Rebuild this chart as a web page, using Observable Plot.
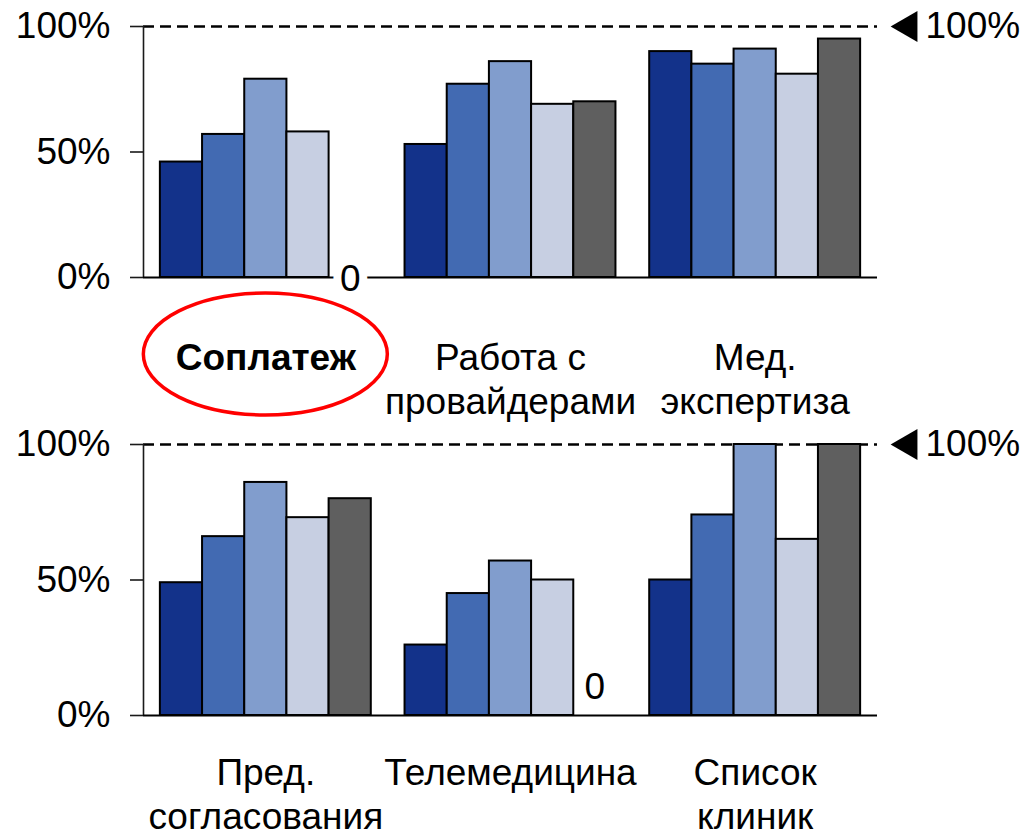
<!DOCTYPE html>
<html>
<head>
<meta charset="utf-8">
<script src="https://cdn.jsdelivr.net/npm/d3@7"></script>
<script src="https://cdn.jsdelivr.net/npm/@observablehq/plot@0.6"></script>
<style>
  body { margin: 0; background: #fff; }
  #chart svg { display: block; }
</style>
</head>
<body>
<div id="chart"></div>
<script>
// Share of respondents per segment (five series per category), in percent
const seriesColors = ["#13328A", "#426AB2", "#819DCD", "#C7CFE2", "#5F5F5F"];

const topCategories = ["Соплатеж", "Работа с\nпровайдерами", "Мед.\nэкспертиза"];
const topValues = [
  [46, 57, 79, 58, 0],
  [53, 77, 86, 69, 70],
  [90, 85, 91, 81, 95]
];

const bottomCategories = ["Пред.\nсогласования", "Телемедицина", "Список\nклиник"];
const bottomValues = [
  [49, 66, 86, 73, 80],
  [26, 45, 57, 50, 0],
  [50, 74, 100, 65, 100]
];

const yTicks = [0, 50, 100];
const referenceLevel = 100;
const highlighted = "Соплатеж";

const FONT = "'Liberation Sans', Arial, Helvetica, sans-serif";
const FONT_SIZE = 37;
const GROUP_STEP = 5.8;                     // bar widths per category, including the gap
const X_DOMAIN = [-0.4, 2 * GROUP_STEP + 5 + 0.4];

function panel(categories, values, opts) {
  const rows = values.flatMap((vals, g) =>
    vals.map((v, s) => ({
      group: g,
      series: s,
      value: v,
      x1: g * GROUP_STEP + s,
      x2: g * GROUP_STEP + s + 1
    }))
  );
  const groups = categories.map((label, g) => ({label, center: g * GROUP_STEP + 2.5}));
  const zeros = rows.filter(d => d.value === 0);

  const labelStyle = {
    x: "center",
    y: 0,
    text: "label",
    dy: opts.labelOffset,
    lineAnchor: "top",
    lineHeight: 1.17,
    fontSize: FONT_SIZE,
    fill: "black"
  };

  return Plot.plot({
    width: 1029,
    height: opts.height,
    marginTop: opts.marginTop,
    marginBottom: opts.marginBottom,
    marginLeft: 143,
    marginRight: 152,
    style: {fontFamily: FONT, fontSize: FONT_SIZE + "px", color: "black", background: "white", overflow: "visible"},
    x: {domain: X_DOMAIN, axis: null},
    y: {domain: [0, 100], label: null},
    color: {type: "ordinal", domain: d3.range(seriesColors.length), range: seriesColors},
    marks: [
      // dashed 100% reference line
      Plot.ruleY([referenceLevel], {stroke: "black", strokeWidth: 2.4, strokeDasharray: "11,6"}),
      // bars
      Plot.rect(rows, {
        x1: "x1", x2: "x2", y1: 0, y2: "value",
        fill: "series", stroke: "black", strokeWidth: 2
      }),
      // left axis line and baseline
      Plot.ruleX([X_DOMAIN[0]], {y1: 0, y2: 100, stroke: "#1a1a1a", strokeWidth: 1.6}),
      Plot.ruleY([0], {stroke: "black", strokeWidth: 2}),
      Plot.axisY(yTicks, {
        tickSize: 13, tickPadding: 20, tickFormat: d => d + "%",
        fontSize: FONT_SIZE, strokeWidth: 1.6, stroke: "#1a1a1a", fill: "black", label: null
      }),
      // category labels
      Plot.text(groups.filter(d => d.label !== highlighted), labelStyle),
      Plot.text(groups.filter(d => d.label === highlighted), {...labelStyle, fontWeight: "bold"}),
      // zero-value labels
      Plot.text(zeros, {
        x: d => (d.x1 + d.x2) / 2,
        y: "value",
        text: d => String(d.value),
        dy: opts.zeroDy,
        lineAnchor: "middle",
        fontSize: FONT_SIZE,
        fill: "black",
        stroke: opts.zeroHalo ? "white" : null,
        strokeWidth: opts.zeroHalo ? 16 : 0,
        paintOrder: "stroke"
      }),
      // 100% marker at the right end of the reference line
      Plot.dot([referenceLevel], {
        y: d => d, frameAnchor: "right", dx: 31,
        symbol: "triangle", rotate: -90, r: 11.5, fill: "black", stroke: null
      }),
      Plot.text([referenceLevel], {
        y: d => d, frameAnchor: "right", dx: 48,
        text: d => d + "%", textAnchor: "start", lineAnchor: "middle",
        fontSize: FONT_SIZE, fill: "black"
      }),
      // highlight ring around the selected category label
      (index, scales) => {
        const g = groups.find(d => d.label === highlighted);
        if (!g) return null;
        return d3.create("svg:ellipse")
          .attr("cx", scales.x(g.center))
          .attr("cy", scales.y(0) + 77)
          .attr("rx", 122)
          .attr("ry", 61)
          .attr("fill", "none")
          .attr("stroke", "#ff0000")
          .attr("stroke-width", 3.5)
          .node();
      }
    ]
  });
}

const chart = document.getElementById("chart");
chart.append(panel(topCategories, topValues, {
  height: 420, marginTop: 26, marginBottom: 143, labelOffset: 62, zeroDy: 2, zeroHalo: true
}));
chart.append(panel(bottomCategories, bottomValues, {
  height: 412, marginTop: 24, marginBottom: 117, labelOffset: 39, zeroDy: -28, zeroHalo: false
}));
</script>
</body>
</html>
